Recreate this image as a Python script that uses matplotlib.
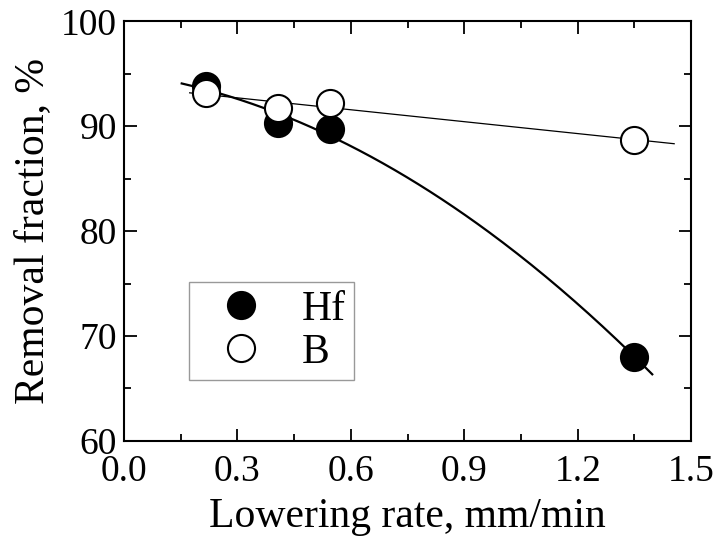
import matplotlib
matplotlib.use('Agg')
import matplotlib.pyplot as plt
import numpy as np
from matplotlib.ticker import MultipleLocator, FormatStrFormatter

plt.rcParams['font.family'] = ['Liberation Serif', 'DejaVu Serif']

# === 数据 ===
rate = [0.218, 0.408, 0.545, 1.35]
hf = [93.8, 90.3, 89.7, 68.0]
b = [93.2, 91.7, 92.2, 88.7]

hf_fit_range = [0.153, 1.397]
b_fit_range = [0.174, 1.455]

fig = plt.figure(figsize=(7.2, 5.45), dpi=100)
ax = fig.add_axes([0.172, 0.191, 0.788, 0.770])

# 拟合曲线
x1 = np.linspace(hf_fit_range[0], hf_fit_range[1], 200)
ax.plot(x1, np.polyval(np.polyfit(rate, hf, 2), x1), color='black', lw=1.6, zorder=2)
x2 = np.linspace(b_fit_range[0], b_fit_range[1], 200)
ax.plot(x2, np.polyval(np.polyfit(rate, b, 1), x2), color='black', lw=0.9, zorder=2)

ax.plot(rate, hf, 'o', ms=19.5, mfc='black', mec='black', mew=1.5, label='Hf', zorder=3)
ax.plot(rate, b, 'o', ms=19.5, mfc='white', mec='black', mew=1.5, label='B', zorder=4)

ax.set_xlim(0, 1.5)
ax.set_ylim(60, 100)
ax.xaxis.set_major_locator(MultipleLocator(0.3))
ax.xaxis.set_minor_locator(MultipleLocator(0.15))
ax.yaxis.set_major_locator(MultipleLocator(10))
ax.yaxis.set_minor_locator(MultipleLocator(5))
ax.xaxis.set_major_formatter(FormatStrFormatter('%.1f'))
ax.tick_params(which='both', direction='in', top=True, right=True, labelsize=27, width=1.3)
ax.tick_params(which='major', length=9)
ax.tick_params(which='minor', length=5)
ax.tick_params(axis='x', which='major', pad=10)
ax.tick_params(axis='y', which='major', pad=5)
for s in ax.spines.values():
    s.set_linewidth(1.5)

ax.set_xlabel('Lowering rate, mm/min', fontsize=30, labelpad=6)
ax.set_ylabel('Removal fraction, %', fontsize=30, labelpad=6)

leg = ax.legend(loc='lower left', bbox_to_anchor=(0.115, 0.145), fontsize=30, frameon=True,
                fancybox=False, edgecolor='gray', handletextpad=0.4, borderpad=0.2,
                labelspacing=0.1, handlelength=2.1, borderaxespad=0, markerscale=1.0)
leg.get_frame().set_linewidth(1.0)

plt.savefig('out.png', dpi=100)
